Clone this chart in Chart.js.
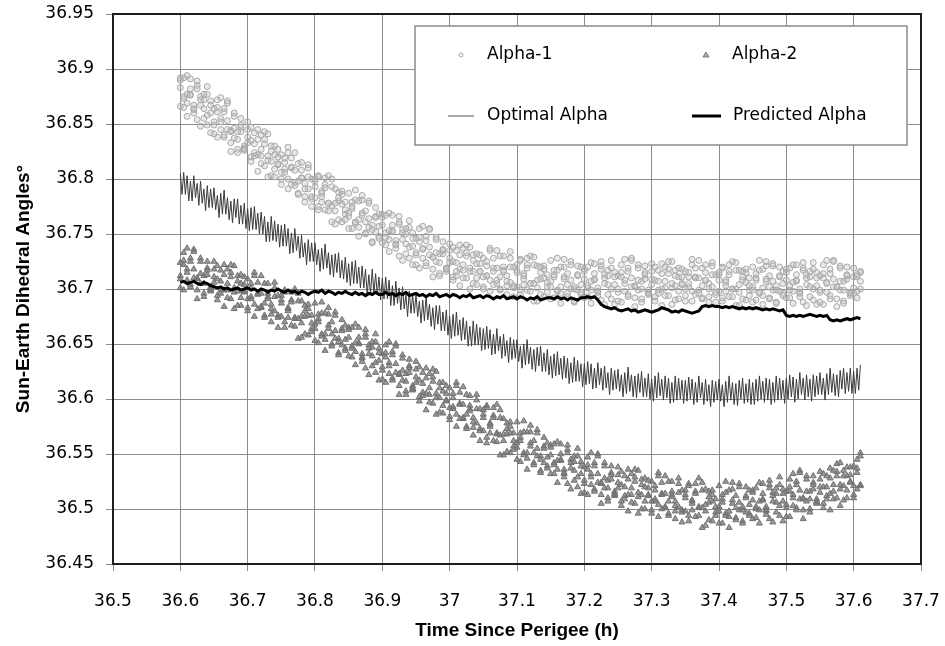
<!DOCTYPE html>
<html>
<head>
<meta charset="utf-8">
<script src="https://cdn.jsdelivr.net/npm/chart.js@4.4.1/dist/chart.umd.min.js"></script>
<style>
  body { margin: 0; background: #fff; }
  canvas { display: block; }
</style>
</head>
<body>
<canvas id="angleChart" width="945" height="646"></canvas>
<script>
// sample times (h since perigee) for the Alpha-1 / Alpha-2 / predicted series
const times = [
  36.600,36.605,36.610,36.615,36.620,36.625,36.630,36.635,36.640,36.645,
  36.650,36.655,36.660,36.665,36.670,36.675,36.680,36.685,36.690,36.695,
  36.700,36.705,36.710,36.715,36.720,36.725,36.730,36.735,36.740,36.745,
  36.750,36.755,36.760,36.765,36.770,36.775,36.780,36.785,36.790,36.795,
  36.800,36.805,36.810,36.815,36.820,36.825,36.830,36.835,36.840,36.845,
  36.850,36.855,36.860,36.865,36.870,36.875,36.880,36.885,36.890,36.895,
  36.900,36.905,36.910,36.915,36.920,36.925,36.930,36.935,36.940,36.945,
  36.950,36.955,36.960,36.965,36.970,36.975,36.980,36.985,36.990,36.995,
  37.000,37.005,37.010,37.015,37.020,37.025,37.030,37.035,37.040,37.045,
  37.050,37.055,37.060,37.065,37.070,37.075,37.080,37.085,37.090,37.095,
  37.100,37.105,37.110,37.115,37.120,37.125,37.130,37.135,37.140,37.145,
  37.150,37.155,37.160,37.165,37.170,37.175,37.180,37.185,37.190,37.195,
  37.200,37.205,37.210,37.215,37.220,37.225,37.230,37.235,37.240,37.245,
  37.250,37.255,37.260,37.265,37.270,37.275,37.280,37.285,37.290,37.295,
  37.300,37.305,37.310,37.315,37.320,37.325,37.330,37.335,37.340,37.345,
  37.350,37.355,37.360,37.365,37.370,37.375,37.380,37.385,37.390,37.395,
  37.400,37.405,37.410,37.415,37.420,37.425,37.430,37.435,37.440,37.445,
  37.450,37.455,37.460,37.465,37.470,37.475,37.480,37.485,37.490,37.495,
  37.500,37.505,37.510,37.515,37.520,37.525,37.530,37.535,37.540,37.545,
  37.550,37.555,37.560,37.565,37.570,37.575,37.580,37.585,37.590,37.595,
  37.600,37.605,37.610
];

// finer sample times for the optimal alpha trace
const optTimes = [
  36.6000,36.6025,36.6050,36.6075,36.6100,36.6125,36.6150,36.6175,36.6200,36.6225,36.6250,36.6275,36.6300,36.6325,36.6350,36.6375,36.6400,36.6425,36.6450,36.6475,
  36.6500,36.6525,36.6550,36.6575,36.6600,36.6625,36.6650,36.6675,36.6700,36.6725,36.6750,36.6775,36.6800,36.6825,36.6850,36.6875,36.6900,36.6925,36.6950,36.6975,
  36.7000,36.7025,36.7050,36.7075,36.7100,36.7125,36.7150,36.7175,36.7200,36.7225,36.7250,36.7275,36.7300,36.7325,36.7350,36.7375,36.7400,36.7425,36.7450,36.7475,
  36.7500,36.7525,36.7550,36.7575,36.7600,36.7625,36.7650,36.7675,36.7700,36.7725,36.7750,36.7775,36.7800,36.7825,36.7850,36.7875,36.7900,36.7925,36.7950,36.7975,
  36.8000,36.8025,36.8050,36.8075,36.8100,36.8125,36.8150,36.8175,36.8200,36.8225,36.8250,36.8275,36.8300,36.8325,36.8350,36.8375,36.8400,36.8425,36.8450,36.8475,
  36.8500,36.8525,36.8550,36.8575,36.8600,36.8625,36.8650,36.8675,36.8700,36.8725,36.8750,36.8775,36.8800,36.8825,36.8850,36.8875,36.8900,36.8925,36.8950,36.8975,
  36.9000,36.9025,36.9050,36.9075,36.9100,36.9125,36.9150,36.9175,36.9200,36.9225,36.9250,36.9275,36.9300,36.9325,36.9350,36.9375,36.9400,36.9425,36.9450,36.9475,
  36.9500,36.9525,36.9550,36.9575,36.9600,36.9625,36.9650,36.9675,36.9700,36.9725,36.9750,36.9775,36.9800,36.9825,36.9850,36.9875,36.9900,36.9925,36.9950,36.9975,
  37.0000,37.0025,37.0050,37.0075,37.0100,37.0125,37.0150,37.0175,37.0200,37.0225,37.0250,37.0275,37.0300,37.0325,37.0350,37.0375,37.0400,37.0425,37.0450,37.0475,
  37.0500,37.0525,37.0550,37.0575,37.0600,37.0625,37.0650,37.0675,37.0700,37.0725,37.0750,37.0775,37.0800,37.0825,37.0850,37.0875,37.0900,37.0925,37.0950,37.0975,
  37.1000,37.1025,37.1050,37.1075,37.1100,37.1125,37.1150,37.1175,37.1200,37.1225,37.1250,37.1275,37.1300,37.1325,37.1350,37.1375,37.1400,37.1425,37.1450,37.1475,
  37.1500,37.1525,37.1550,37.1575,37.1600,37.1625,37.1650,37.1675,37.1700,37.1725,37.1750,37.1775,37.1800,37.1825,37.1850,37.1875,37.1900,37.1925,37.1950,37.1975,
  37.2000,37.2025,37.2050,37.2075,37.2100,37.2125,37.2150,37.2175,37.2200,37.2225,37.2250,37.2275,37.2300,37.2325,37.2350,37.2375,37.2400,37.2425,37.2450,37.2475,
  37.2500,37.2525,37.2550,37.2575,37.2600,37.2625,37.2650,37.2675,37.2700,37.2725,37.2750,37.2775,37.2800,37.2825,37.2850,37.2875,37.2900,37.2925,37.2950,37.2975,
  37.3000,37.3025,37.3050,37.3075,37.3100,37.3125,37.3150,37.3175,37.3200,37.3225,37.3250,37.3275,37.3300,37.3325,37.3350,37.3375,37.3400,37.3425,37.3450,37.3475,
  37.3500,37.3525,37.3550,37.3575,37.3600,37.3625,37.3650,37.3675,37.3700,37.3725,37.3750,37.3775,37.3800,37.3825,37.3850,37.3875,37.3900,37.3925,37.3950,37.3975,
  37.4000,37.4025,37.4050,37.4075,37.4100,37.4125,37.4150,37.4175,37.4200,37.4225,37.4250,37.4275,37.4300,37.4325,37.4350,37.4375,37.4400,37.4425,37.4450,37.4475,
  37.4500,37.4525,37.4550,37.4575,37.4600,37.4625,37.4650,37.4675,37.4700,37.4725,37.4750,37.4775,37.4800,37.4825,37.4850,37.4875,37.4900,37.4925,37.4950,37.4975,
  37.5000,37.5025,37.5050,37.5075,37.5100,37.5125,37.5150,37.5175,37.5200,37.5225,37.5250,37.5275,37.5300,37.5325,37.5350,37.5375,37.5400,37.5425,37.5450,37.5475,
  37.5500,37.5525,37.5550,37.5575,37.5600,37.5625,37.5650,37.5675,37.5700,37.5725,37.5750,37.5775,37.5800,37.5825,37.5850,37.5875,37.5900,37.5925,37.5950,37.5975,
  37.6000,37.6025,37.6050,37.6075,37.6100
];

// Alpha-1 measurements (four samples per time)
const alpha1A = [
  36.892,36.873,36.894,36.877,36.863,36.885,36.875,36.864,36.884,36.871,
  36.864,36.872,36.852,36.861,36.871,36.843,36.857,36.843,36.849,36.830,
  36.852,36.835,36.842,36.822,36.840,36.832,36.841,36.816,36.822,36.827,
  36.822,36.806,36.824,36.811,36.797,36.814,36.808,36.796,36.813,36.800,
  36.798,36.803,36.784,36.795,36.803,36.776,36.791,36.780,36.786,36.768,
  36.787,36.773,36.781,36.763,36.781,36.771,36.780,36.758,36.765,36.768,
  36.768,36.747,36.769,36.752,36.741,36.761,36.754,36.741,36.762,36.751,
  36.746,36.755,36.736,36.744,36.755,36.729,36.745,36.732,36.736,36.719,
  36.741,36.725,36.735,36.718,36.737,36.730,36.738,36.716,36.723,36.731,
  36.728,36.712,36.735,36.719,36.705,36.730,36.720,36.712,36.734,36.720,
  36.717,36.727,36.709,36.722,36.730,36.705,36.721,36.709,36.718,36.702,
  36.726,36.711,36.717,36.702,36.720,36.714,36.725,36.702,36.712,36.720,
  36.718,36.701,36.724,36.709,36.697,36.721,36.713,36.704,36.726,36.715,
  36.712,36.722,36.705,36.716,36.728,36.702,36.719,36.707,36.715,36.699,
  36.723,36.708,36.717,36.700,36.720,36.714,36.725,36.703,36.711,36.718,
  36.716,36.702,36.722,36.711,36.699,36.719,36.715,36.705,36.724,36.713,
  36.713,36.720,36.703,36.716,36.725,36.700,36.717,36.708,36.715,36.699,
  36.720,36.708,36.717,36.701,36.721,36.712,36.723,36.703,36.711,36.716,
  36.718,36.699,36.722,36.707,36.697,36.719,36.713,36.702,36.724,36.715,
  36.712,36.722,36.705,36.714,36.726,36.702,36.719,36.707,36.713,36.697,
  36.719,36.711,36.716
];
const alpha1B = [
  36.866,36.875,36.857,36.876,36.864,36.854,36.872,36.855,36.858,36.842,
  36.849,36.838,36.855,36.838,36.845,36.825,36.837,36.827,36.843,36.827,
  36.833,36.816,36.821,36.807,36.827,36.812,36.817,36.803,36.809,36.814,
  36.800,36.809,36.791,36.810,36.794,36.786,36.801,36.784,36.791,36.775,
  36.783,36.772,36.789,36.772,36.778,36.761,36.771,36.763,36.777,36.763,
  36.769,36.755,36.760,36.748,36.767,36.751,36.756,36.743,36.752,36.757,
  36.742,36.751,36.734,36.753,36.740,36.730,36.751,36.732,36.738,36.722,
  36.731,36.719,36.737,36.721,36.731,36.711,36.725,36.714,36.732,36.718,
  36.724,36.708,36.712,36.703,36.722,36.710,36.716,36.705,36.710,36.716,
  36.702,36.712,36.698,36.716,36.708,36.699,36.717,36.703,36.706,36.693,
  36.702,36.695,36.714,36.699,36.705,36.689,36.701,36.695,36.710,36.697,
  36.707,36.692,36.698,36.687,36.709,36.696,36.700,36.689,36.699,36.704,
  36.692,36.703,36.687,36.708,36.698,36.690,36.710,36.695,36.700,36.686,
  36.697,36.688,36.708,36.693,36.702,36.684,36.699,36.691,36.709,36.696,
  36.704,36.689,36.696,36.685,36.707,36.694,36.701,36.690,36.698,36.705,
  36.694,36.705,36.689,36.710,36.696,36.691,36.708,36.693,36.702,36.688,
  36.698,36.689,36.708,36.693,36.700,36.685,36.697,36.691,36.706,36.694,
  36.702,36.690,36.696,36.686,36.707,36.692,36.699,36.688,36.698,36.705,
  36.692,36.703,36.687,36.708,36.696,36.688,36.710,36.693,36.700,36.686,
  36.697,36.686,36.706,36.691,36.702,36.684,36.699,36.689,36.709,36.696,
  36.696,36.692,36.700
];
const alpha1C = [
  36.883,36.892,36.869,36.882,36.860,36.889,36.867,36.877,36.849,36.867,
  36.852,36.865,36.874,36.840,36.853,36.844,36.860,36.824,36.847,36.828,
  36.845,36.820,36.832,36.845,36.821,36.836,36.802,36.825,36.830,36.813,
  36.795,36.815,36.800,36.819,36.824,36.787,36.801,36.791,36.810,36.782,
  36.793,36.802,36.779,36.792,36.771,36.800,36.778,36.788,36.761,36.779,
  36.766,36.779,36.790,36.756,36.769,36.761,36.778,36.742,36.766,36.748,
  36.765,36.740,36.753,36.767,36.744,36.759,36.726,36.750,36.756,36.739,
  36.722,36.743,36.728,36.748,36.754,36.718,36.733,36.724,36.743,36.716,
  36.728,36.738,36.716,36.731,36.710,36.740,36.719,36.731,36.704,36.723,
  36.711,36.725,36.737,36.704,36.719,36.711,36.730,36.695,36.720,36.703,
  36.722,36.699,36.712,36.728,36.705,36.722,36.689,36.715,36.721,36.706,
  36.691,36.713,36.699,36.720,36.727,36.693,36.708,36.700,36.721,36.695,
  36.709,36.720,36.699,36.714,36.694,36.725,36.705,36.717,36.691,36.711,
  36.700,36.715,36.727,36.695,36.710,36.703,36.722,36.688,36.713,36.697,
  36.716,36.693,36.707,36.723,36.701,36.718,36.686,36.712,36.719,36.704,
  36.689,36.711,36.698,36.719,36.726,36.692,36.708,36.700,36.721,36.695,
  36.708,36.719,36.698,36.713,36.693,36.724,36.704,36.716,36.690,36.710,
  36.699,36.714,36.726,36.694,36.709,36.702,36.721,36.687,36.712,36.696,
  36.715,36.692,36.706,36.722,36.700,36.717,36.685,36.711,36.718,36.703,
  36.688,36.710,36.697,36.718,36.725,36.691,36.707,36.699,36.720,36.694,
  36.711,36.698,36.715
];
const alpha1D = [
  36.890,36.865,36.877,36.891,36.867,36.882,36.848,36.872,36.877,36.860,
  36.841,36.861,36.845,36.864,36.869,36.833,36.846,36.836,36.855,36.826,
  36.838,36.847,36.824,36.836,36.814,36.843,36.821,36.830,36.802,36.820,
  36.806,36.819,36.829,36.795,36.808,36.798,36.815,36.779,36.802,36.784,
  36.800,36.775,36.787,36.801,36.778,36.793,36.759,36.783,36.789,36.772,
  36.755,36.775,36.761,36.780,36.785,36.750,36.764,36.754,36.774,36.746,
  36.758,36.767,36.745,36.758,36.737,36.766,36.745,36.755,36.728,36.746,
  36.733,36.747,36.757,36.724,36.738,36.729,36.747,36.712,36.735,36.718,
  36.735,36.711,36.724,36.740,36.717,36.733,36.700,36.726,36.732,36.716,
  36.700,36.721,36.708,36.728,36.735,36.700,36.716,36.707,36.728,36.701,
  36.715,36.726,36.704,36.719,36.698,36.729,36.708,36.720,36.693,36.713,
  36.702,36.717,36.728,36.696,36.711,36.704,36.722,36.688,36.713,36.697,
  36.716,36.693,36.707,36.723,36.701,36.718,36.686,36.712,36.719,36.704,
  36.689,36.711,36.698,36.719,36.726,36.692,36.708,36.700,36.721,36.695,
  36.709,36.720,36.699,36.714,36.694,36.725,36.705,36.717,36.691,36.711,
  36.700,36.715,36.727,36.695,36.710,36.703,36.722,36.688,36.713,36.697,
  36.715,36.692,36.706,36.722,36.700,36.717,36.685,36.711,36.718,36.703,
  36.688,36.710,36.697,36.718,36.725,36.691,36.707,36.699,36.720,36.694,
  36.708,36.719,36.698,36.713,36.693,36.724,36.704,36.716,36.690,36.710,
  36.699,36.714,36.726,36.694,36.709,36.702,36.721,36.687,36.712,36.696,
  36.701,36.713,36.707
];

// Alpha-2 measurements (four samples per time)
const alpha2A = [
  36.724,36.733,36.715,36.725,36.736,36.709,36.725,36.712,36.719,36.702,
  36.725,36.709,36.717,36.699,36.718,36.711,36.721,36.698,36.705,36.711,
  36.709,36.691,36.712,36.696,36.683,36.705,36.696,36.686,36.706,36.694,
  36.690,36.699,36.680,36.690,36.700,36.673,36.689,36.675,36.682,36.664,
  36.687,36.670,36.678,36.659,36.677,36.670,36.679,36.655,36.662,36.667,
  36.665,36.646,36.668,36.651,36.637,36.659,36.649,36.639,36.659,36.646,
  36.641,36.649,36.630,36.640,36.650,36.622,36.637,36.623,36.630,36.612,
  36.634,36.617,36.624,36.605,36.623,36.616,36.625,36.601,36.607,36.612,
  36.610,36.591,36.612,36.596,36.582,36.604,36.594,36.583,36.604,36.591,
  36.586,36.594,36.575,36.585,36.595,36.567,36.582,36.568,36.575,36.557,
  36.579,36.562,36.570,36.551,36.570,36.562,36.572,36.548,36.555,36.560,
  36.558,36.540,36.561,36.545,36.532,36.554,36.545,36.535,36.555,36.543,
  36.538,36.547,36.529,36.539,36.550,36.523,36.539,36.526,36.533,36.516,
  36.538,36.522,36.530,36.513,36.532,36.525,36.535,36.513,36.520,36.526,
  36.525,36.507,36.530,36.514,36.501,36.525,36.516,36.507,36.528,36.517,
  36.513,36.523,36.505,36.516,36.528,36.501,36.518,36.506,36.513,36.497,
  36.521,36.506,36.515,36.498,36.518,36.512,36.523,36.502,36.510,36.517,
  36.517,36.500,36.524,36.509,36.498,36.522,36.515,36.506,36.529,36.518,
  36.516,36.527,36.510,36.522,36.535,36.509,36.527,36.516,36.524,36.509,
  36.534,36.520,36.530,36.514,36.535,36.530,36.542,36.521,36.530,36.538,
  36.539,36.545,36.548
];
const alpha2B = [
  36.709,36.699,36.718,36.702,36.710,36.691,36.705,36.696,36.713,36.699,
  36.706,36.690,36.696,36.684,36.705,36.691,36.697,36.685,36.692,36.698,
  36.683,36.693,36.675,36.695,36.684,36.674,36.693,36.677,36.680,36.665,
  36.675,36.665,36.683,36.667,36.674,36.655,36.669,36.659,36.676,36.661,
  36.668,36.651,36.657,36.644,36.664,36.650,36.655,36.642,36.649,36.654,
  36.639,36.648,36.631,36.650,36.638,36.628,36.646,36.630,36.633,36.617,
  36.626,36.615,36.633,36.617,36.624,36.604,36.617,36.607,36.624,36.609,
  36.615,36.598,36.603,36.590,36.610,36.596,36.601,36.588,36.594,36.599,
  36.584,36.593,36.575,36.595,36.583,36.573,36.591,36.574,36.578,36.562,
  36.571,36.560,36.578,36.562,36.569,36.549,36.562,36.552,36.569,36.554,
  36.560,36.543,36.549,36.536,36.557,36.542,36.548,36.535,36.542,36.547,
  36.532,36.542,36.524,36.544,36.533,36.523,36.542,36.526,36.529,36.514,
  36.523,36.513,36.532,36.516,36.524,36.505,36.519,36.510,36.527,36.513,
  36.519,36.503,36.509,36.498,36.519,36.505,36.511,36.500,36.507,36.513,
  36.499,36.509,36.493,36.513,36.502,36.494,36.513,36.498,36.502,36.488,
  36.498,36.489,36.508,36.493,36.502,36.483,36.498,36.490,36.507,36.494,
  36.502,36.487,36.494,36.483,36.505,36.492,36.499,36.489,36.497,36.504,
  36.491,36.502,36.487,36.508,36.499,36.491,36.512,36.497,36.503,36.489,
  36.501,36.493,36.513,36.499,36.509,36.491,36.507,36.500,36.518,36.506,
  36.515,36.501,36.509,36.499,36.522,36.510,36.518,36.508,36.517,36.525,
  36.513,36.518,36.521
];
const alpha2C = [
  36.712,36.726,36.737,36.704,36.718,36.710,36.728,36.693,36.717,36.700,
  36.718,36.694,36.707,36.722,36.699,36.715,36.682,36.707,36.713,36.697,
  36.680,36.701,36.686,36.706,36.712,36.676,36.691,36.682,36.701,36.674,
  36.687,36.697,36.674,36.688,36.666,36.696,36.675,36.685,36.658,36.676,
  36.664,36.677,36.688,36.654,36.667,36.659,36.676,36.640,36.664,36.646,
  36.663,36.638,36.651,36.665,36.641,36.656,36.622,36.647,36.652,36.635,
  36.618,36.638,36.623,36.643,36.648,36.612,36.626,36.616,36.636,36.608,
  36.620,36.629,36.606,36.619,36.597,36.627,36.605,36.615,36.587,36.605,
  36.592,36.605,36.615,36.582,36.595,36.586,36.603,36.567,36.591,36.573,
  36.590,36.565,36.577,36.592,36.568,36.583,36.549,36.573,36.579,36.562,
  36.545,36.565,36.551,36.570,36.576,36.540,36.555,36.545,36.565,36.537,
  36.549,36.559,36.536,36.550,36.529,36.558,36.537,36.548,36.520,36.539,
  36.526,36.540,36.551,36.518,36.532,36.524,36.542,36.507,36.531,36.514,
  36.531,36.507,36.520,36.536,36.513,36.529,36.496,36.522,36.528,36.512,
  36.496,36.517,36.504,36.524,36.530,36.496,36.511,36.503,36.523,36.497,
  36.510,36.521,36.499,36.514,36.494,36.524,36.504,36.516,36.489,36.509,
  36.498,36.513,36.525,36.493,36.508,36.501,36.520,36.487,36.512,36.496,
  36.515,36.492,36.507,36.523,36.502,36.519,36.488,36.514,36.522,36.507,
  36.493,36.516,36.503,36.525,36.533,36.499,36.516,36.509,36.530,36.505,
  36.520,36.532,36.512,36.528,36.509,36.541,36.522,36.535,36.510,36.531,
  36.521,36.537,36.551
];
const alpha2D = [
  36.701,36.722,36.708,36.728,36.734,36.699,36.714,36.705,36.725,36.698,
  36.711,36.721,36.699,36.713,36.692,36.722,36.701,36.712,36.685,36.704,
  36.691,36.705,36.715,36.682,36.696,36.687,36.705,36.670,36.693,36.676,
  36.694,36.670,36.682,36.697,36.673,36.689,36.656,36.680,36.686,36.669,
  36.653,36.673,36.659,36.678,36.683,36.648,36.662,36.652,36.672,36.644,
  36.656,36.665,36.643,36.656,36.634,36.663,36.641,36.652,36.624,36.642,
  36.629,36.642,36.652,36.619,36.632,36.623,36.640,36.604,36.628,36.610,
  36.627,36.602,36.614,36.628,36.604,36.620,36.586,36.610,36.615,36.598,
  36.581,36.601,36.586,36.606,36.611,36.575,36.589,36.579,36.599,36.571,
  36.583,36.592,36.569,36.583,36.561,36.590,36.568,36.578,36.551,36.569,
  36.556,36.569,36.580,36.546,36.560,36.551,36.569,36.533,36.557,36.539,
  36.556,36.532,36.544,36.559,36.536,36.551,36.518,36.543,36.548,36.532,
  36.515,36.536,36.522,36.542,36.548,36.513,36.528,36.519,36.539,36.512,
  36.524,36.534,36.512,36.527,36.506,36.536,36.515,36.527,36.500,36.519,
  36.507,36.521,36.533,36.500,36.514,36.507,36.525,36.491,36.515,36.499,
  36.517,36.494,36.507,36.523,36.501,36.517,36.485,36.511,36.517,36.502,
  36.487,36.509,36.496,36.517,36.524,36.490,36.506,36.499,36.520,36.494,
  36.508,36.519,36.499,36.514,36.495,36.526,36.507,36.519,36.494,36.514,
  36.504,36.520,36.532,36.501,36.517,36.510,36.530,36.497,36.522,36.507,
  36.527,36.505,36.520,36.537,36.516,36.534,36.503,36.530,36.538,36.524,
  36.510,36.533,36.522
];

// Optimal alpha (thin, fast-oscillating line) on optTimes
const optimalAlpha = [
  36.805,36.786,36.806,36.786,36.803,36.780,36.798,36.780,36.803,36.783,36.796,36.776,36.798,36.778,36.791,36.771,36.794,36.774,36.791,36.774,
  36.792,36.772,36.785,36.765,36.787,36.768,36.790,36.768,36.783,36.763,36.780,36.760,36.782,36.765,36.782,36.759,36.776,36.759,36.778,36.755,
  36.773,36.753,36.774,36.754,36.775,36.754,36.769,36.750,36.770,36.750,36.766,36.743,36.761,36.743,36.766,36.744,36.762,36.743,36.759,36.738,
  36.758,36.739,36.759,36.739,36.755,36.732,36.751,36.733,36.755,36.735,36.748,36.728,36.749,36.729,36.742,36.722,36.745,36.725,36.742,36.725,
  36.742,36.722,36.736,36.716,36.737,36.718,36.741,36.719,36.733,36.713,36.731,36.711,36.732,36.715,36.733,36.710,36.726,36.709,36.729,36.706,
  36.723,36.703,36.725,36.705,36.726,36.705,36.720,36.701,36.721,36.701,36.718,36.695,36.713,36.695,36.718,36.696,36.714,36.695,36.711,36.690,
  36.710,36.691,36.711,36.691,36.708,36.685,36.703,36.685,36.707,36.687,36.701,36.681,36.702,36.682,36.695,36.675,36.698,36.678,36.695,36.678,
  36.695,36.675,36.689,36.669,36.690,36.671,36.694,36.672,36.686,36.666,36.683,36.663,36.685,36.668,36.685,36.662,36.679,36.662,36.681,36.658,
  36.675,36.655,36.677,36.657,36.679,36.658,36.672,36.653,36.674,36.654,36.671,36.648,36.666,36.648,36.671,36.649,36.668,36.649,36.665,36.644,
  36.664,36.645,36.666,36.646,36.663,36.640,36.659,36.641,36.664,36.644,36.657,36.637,36.659,36.639,36.653,36.633,36.656,36.636,36.654,36.637,
  36.654,36.634,36.648,36.628,36.650,36.631,36.654,36.632,36.647,36.627,36.645,36.625,36.647,36.630,36.648,36.625,36.642,36.625,36.645,36.622,
  36.639,36.619,36.641,36.621,36.643,36.622,36.637,36.618,36.639,36.619,36.637,36.614,36.633,36.615,36.638,36.616,36.635,36.616,36.632,36.611,
  36.632,36.613,36.634,36.614,36.632,36.609,36.628,36.610,36.633,36.613,36.628,36.608,36.630,36.610,36.624,36.604,36.628,36.608,36.626,36.609,
  36.627,36.607,36.622,36.602,36.624,36.605,36.629,36.607,36.622,36.602,36.621,36.601,36.623,36.606,36.625,36.602,36.619,36.602,36.623,36.600,
  36.618,36.598,36.621,36.601,36.624,36.603,36.618,36.599,36.621,36.601,36.619,36.596,36.615,36.597,36.621,36.599,36.619,36.600,36.617,36.596,
  36.617,36.598,36.620,36.600,36.618,36.595,36.615,36.597,36.621,36.601,36.615,36.595,36.618,36.598,36.613,36.593,36.617,36.597,36.616,36.599,
  36.618,36.598,36.613,36.593,36.616,36.597,36.621,36.599,36.615,36.595,36.614,36.594,36.617,36.600,36.619,36.596,36.614,36.597,36.618,36.595,
  36.615,36.595,36.618,36.598,36.621,36.600,36.616,36.597,36.619,36.599,36.618,36.595,36.615,36.597,36.621,36.599,36.619,36.600,36.617,36.596,
  36.619,36.600,36.622,36.602,36.620,36.597,36.618,36.600,36.624,36.604,36.619,36.599,36.622,36.602,36.618,36.598,36.622,36.602,36.621,36.604,
  36.624,36.604,36.619,36.599,36.623,36.604,36.628,36.606,36.623,36.603,36.622,36.602,36.626,36.609,36.628,36.605,36.624,36.607,36.628,36.605,
  36.625,36.605,36.628,36.608,36.631
];

// Predicted alpha (thick line)
const predictedAlpha = [
  36.706,36.707,36.705,36.706,36.707,36.705,36.704,36.706,36.705,36.703,
  36.702,36.701,36.702,36.700,36.701,36.699,36.700,36.701,36.699,36.700,
  36.701,36.699,36.700,36.698,36.700,36.699,36.697,36.699,36.698,36.700,
  36.698,36.697,36.699,36.697,36.698,36.696,36.698,36.697,36.695,36.697,
  36.698,36.697,36.699,36.696,36.698,36.697,36.695,36.697,36.696,36.698,
  36.696,36.695,36.697,36.695,36.696,36.694,36.696,36.695,36.697,36.695,
  36.695,36.697,36.695,36.696,36.694,36.696,36.695,36.697,36.694,36.695,
  36.696,36.694,36.695,36.693,36.695,36.694,36.696,36.693,36.694,36.695,
  36.693,36.695,36.694,36.692,36.694,36.693,36.695,36.692,36.693,36.694,
  36.692,36.694,36.693,36.691,36.693,36.692,36.694,36.691,36.692,36.693,
  36.691,36.693,36.692,36.690,36.692,36.691,36.693,36.690,36.691,36.692,
  36.692,36.691,36.693,36.691,36.692,36.690,36.692,36.691,36.690,36.692,
  36.692,36.693,36.692,36.693,36.690,36.686,36.684,36.683,36.682,36.683,
  36.681,36.680,36.681,36.682,36.680,36.681,36.679,36.680,36.681,36.680,
  36.679,36.680,36.681,36.683,36.682,36.681,36.679,36.680,36.679,36.681,
  36.680,36.679,36.678,36.679,36.680,36.684,36.685,36.684,36.685,36.684,
  36.684,36.683,36.684,36.683,36.684,36.683,36.682,36.683,36.682,36.683,
  36.682,36.683,36.682,36.681,36.682,36.681,36.682,36.681,36.680,36.681,
  36.676,36.675,36.676,36.675,36.676,36.675,36.676,36.677,36.676,36.675,
  36.676,36.675,36.676,36.672,36.671,36.672,36.671,36.672,36.673,36.672,
  36.673,36.674,36.673
];

function pairs(xs, ys) {
  return xs.map((x, i) => ({ x: x, y: ys[i] }));
}

function fmt(v) {
  return String(Number(v.toFixed(2)));
}

// frame round the plot area + the boxed legend inside it
const frameAndLegend = {
  id: 'frameAndLegend',
  afterDraw(chart) {
    const ctx = chart.ctx;
    const a = chart.chartArea;
    ctx.save();
    ctx.strokeStyle = '#1e1e1e';
    ctx.lineWidth = 2;
    ctx.strokeRect(a.left, a.top, a.right - a.left, a.bottom - a.top);

    const x0 = a.left + 302, y0 = a.top + 12, w = 492, h = 119;
    ctx.fillStyle = '#fff';
    ctx.fillRect(x0, y0, w, h);
    ctx.strokeStyle = '#8c8c8c';
    ctx.lineWidth = 1.5;
    ctx.strokeRect(x0, y0, w, h);

    // markers
    ctx.lineWidth = 1;
    ctx.strokeStyle = '#a6a6a6';
    ctx.beginPath();
    ctx.arc(x0 + 46, y0 + 29, 2, 0, Math.PI * 2);
    ctx.stroke();

    ctx.strokeStyle = '#7a7a7a';
    ctx.fillStyle = '#b0b0b0';
    ctx.beginPath();
    ctx.moveTo(x0 + 291, y0 + 26);
    ctx.lineTo(x0 + 294, y0 + 31);
    ctx.lineTo(x0 + 288, y0 + 31);
    ctx.closePath();
    ctx.fill();
    ctx.stroke();

    ctx.strokeStyle = '#555';
    ctx.lineWidth = 1;
    ctx.beginPath();
    ctx.moveTo(x0 + 33, y0 + 90);
    ctx.lineTo(x0 + 59, y0 + 90);
    ctx.stroke();

    ctx.strokeStyle = '#000';
    ctx.lineWidth = 3;
    ctx.beginPath();
    ctx.moveTo(x0 + 277, y0 + 90);
    ctx.lineTo(x0 + 306, y0 + 90);
    ctx.stroke();

    ctx.fillStyle = '#000';
    ctx.font = '17px "DejaVu Sans"';
    ctx.textBaseline = 'middle';
    ctx.textAlign = 'left';
    ctx.fillText('Alpha-1', x0 + 72, y0 + 29);
    ctx.fillText('Alpha-2', x0 + 317, y0 + 29);
    ctx.fillText('Optimal Alpha', x0 + 72, y0 + 90);
    ctx.fillText('Predicted Alpha', x0 + 318, y0 + 90);
    ctx.restore();
  }
};

const tickFont = { family: 'DejaVu Sans', size: 17 };
const titleFont = { family: '"Liberation Sans Narrow", "Liberation Sans", sans-serif', size: 19, weight: 'bold' };

new Chart(document.getElementById('angleChart'), {
  type: 'scatter',
  data: {
    datasets: [
      {
        label: 'Predicted Alpha',
        data: pairs(times, predictedAlpha),
        showLine: true,
        borderColor: '#000',
        borderWidth: 3,
        pointRadius: 0
      },
      {
        label: 'Optimal Alpha',
        data: pairs(optTimes, optimalAlpha),
        showLine: true,
        borderColor: '#3a3a3a',
        borderWidth: 1,
        pointRadius: 0
      },
      {
        label: 'Alpha-2',
        data: pairs(times, alpha2A).concat(pairs(times, alpha2B), pairs(times, alpha2C), pairs(times, alpha2D)),
        pointStyle: 'triangle',
        pointRadius: 3.5,
        borderWidth: 1,
        borderColor: '#727272',
        backgroundColor: 'rgba(120,120,120,0.75)'
      },
      {
        label: 'Alpha-1',
        data: pairs(times, alpha1A).concat(pairs(times, alpha1B), pairs(times, alpha1C), pairs(times, alpha1D)),
        pointStyle: 'circle',
        pointRadius: 3,
        borderWidth: 1,
        borderColor: '#a8a8a8',
        backgroundColor: 'rgba(185,185,185,0.3)'
      }
    ]
  },
  options: {
    responsive: false,
    animation: false,
    devicePixelRatio: 1,
    layout: { padding: { left: 0, right: 24, top: 14, bottom: 0 } },
    plugins: {
      legend: { display: false },
      tooltip: { enabled: false }
    },
    scales: {
      x: {
        type: 'linear',
        min: 36.5,
        max: 37.7,
        // fixed axis band; drop the edge-label padding so the plot keeps its size
        afterFit: s => { s.height = 82; s.paddingLeft = 0; s.paddingRight = 0; },
        ticks: { stepSize: 0.1, callback: fmt, font: tickFont, color: '#000', padding: 20, maxRotation: 0 },
        grid: { color: '#8c8c8c', lineWidth: 1, tickLength: 7 },
        border: { display: false },
        title: { display: true, text: 'Time Since Perigee (h)', font: titleFont, color: '#000', padding: { top: 0, bottom: 4 } }
      },
      y: {
        min: 36.45,
        max: 36.95,
        afterFit: s => { s.width = 113; s.paddingTop = 0; s.paddingBottom = 0; },
        ticks: { stepSize: 0.05, callback: fmt, font: tickFont, color: '#000', padding: 12 },
        grid: { color: '#8c8c8c', lineWidth: 1, tickLength: 7 },
        border: { display: false },
        title: { display: true, text: 'Sun-Earth Dihedral Angles°', font: titleFont, color: '#000', padding: { top: 12, bottom: 0 } }
      }
    }
  },
  plugins: [frameAndLegend]
});
</script>
</body>
</html>
